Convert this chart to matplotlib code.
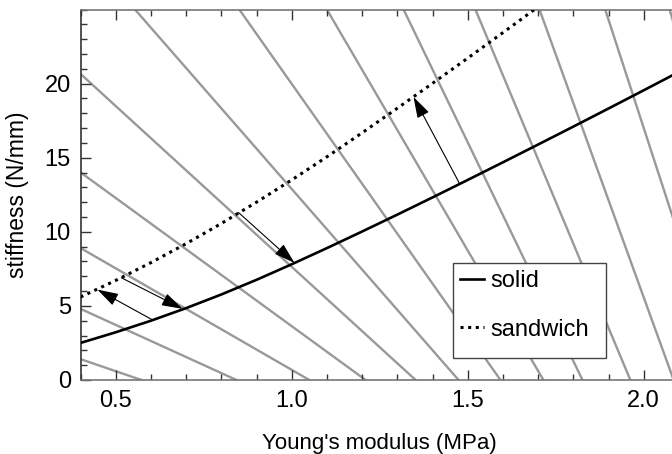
import numpy as np
import matplotlib
matplotlib.use('agg')
import matplotlib.pyplot as plt
from matplotlib.patches import Rectangle
from matplotlib.ticker import FixedLocator, MultipleLocator, StrMethodFormatter

plt.rcParams['font.family'] = ['Liberation Sans', 'DejaVu Sans']
plt.rcParams['font.size'] = 16

# Young's modulus grid (MPa)
modulus = [0.4, 0.5, 0.6, 0.7, 0.8, 0.9, 1.0, 1.1, 1.2, 1.3, 1.4, 1.5,
           1.6, 1.7, 1.8, 1.9, 2.0, 2.1]
# stiffness of the solid plate (N/mm)
solid = [2.5, 3.22, 4.0, 4.85, 5.77, 6.76, 7.81, 8.9, 10.02, 11.16, 12.32,
         13.5, 14.69, 15.89, 17.1, 18.32, 19.55, 20.79]
# stiffness of the sandwich plate (N/mm), up to 1.7 MPa
modulus_sw = [0.4, 0.5, 0.6, 0.7, 0.8, 0.9, 1.0, 1.1, 1.2, 1.3, 1.4, 1.5,
              1.6, 1.7]
sandwich = [5.6, 6.72, 7.92, 9.2, 10.56, 12.0, 13.5, 15.06, 16.68, 18.34,
            20.02, 21.72, 23.44, 25.18]

# iso-lines: modulus where stiffness drops to zero and their slope
iso_e0 = [0.573, 0.843, 1.05, 1.21, 1.352, 1.474, 1.593, 1.715, 1.826,
          1.962, 2.085, 2.233, 2.386]
iso_slope = [-8.15, -10.84, -13.7, -17.3, -21.7, -27.2, -33.7, -40.65,
             -49.2, -56.8, -65.6, -73.0, -80.0]

# arrows between the curves (tail -> head)
arrow_tail_x = [0.605, 0.516, 0.849, 1.477]
arrow_tail_y = [4.05, 6.9, 11.3, 13.25]
arrow_head_x = [0.448, 0.69, 1.008, 1.346]
arrow_head_y = [6.1, 4.8, 7.9, 19.1]

fig = plt.figure(figsize=(6.72, 4.54), dpi=100)
ax = fig.add_axes([0.1198, 0.163, 0.8905, 0.816])

xs = np.array([0.3, 2.6])
for e0, k in zip(iso_e0, iso_slope):
    ax.plot(xs, k * (xs - e0), color='#999999', lw=1.7, zorder=1)

ax.plot(modulus, solid, color='black', lw=1.9, label='solid', zorder=3)
ax.plot(modulus_sw, sandwich, color='black', lw=2.2,
        linestyle=(0, (1, 1.5)), label='sandwich', zorder=3)

for tx, ty, hx, hy in zip(arrow_tail_x, arrow_tail_y, arrow_head_x, arrow_head_y):
    ax.annotate('', xy=(hx, hy), xytext=(tx, ty),
                arrowprops=dict(arrowstyle='-|>,head_length=0.65,head_width=0.2',
                                color='black', lw=0.8, mutation_scale=20,
                                shrinkA=0, shrinkB=0),
                zorder=4)

ax.set_xlim(0.4, 2.1)
ax.set_ylim(0, 25)
ax.xaxis.set_major_locator(MultipleLocator(0.5))
ax.xaxis.set_minor_locator(MultipleLocator(0.1))
ax.xaxis.set_major_formatter(StrMethodFormatter('{x:.1f}'))
ax.yaxis.set_major_locator(FixedLocator([0, 5, 10, 15, 20]))
ax.yaxis.set_minor_locator(MultipleLocator(1))
ax.tick_params(which='both', direction='in', top=True, right=False,
               color='#333333', pad=7, labelsize=17)
ax.tick_params(which='major', length=7, width=1)
ax.tick_params(which='minor', length=4, width=1)

ax.spines['right'].set_visible(False)
ax.spines['left'].set_color('#333333')
for side in ('top', 'bottom'):
    ax.spines[side].set_color('#777777')
for side in ('left', 'top', 'bottom'):
    ax.spines[side].set_linewidth(1.2)

ax.set_xlabel("Young's modulus (MPa)", labelpad=15)
ax.set_ylabel('stiffness (N/mm)', labelpad=11, fontsize=16.5)

# legend box drawn separately so it can be sized freely
ax.add_patch(Rectangle((0.6225, 0.0593), 0.2555, 0.2561, transform=ax.transAxes,
                       facecolor='white', edgecolor='#444444', lw=1.0, zorder=5))
leg = ax.legend(loc='upper left', bbox_to_anchor=(0.6225, 0.3154),
                borderaxespad=0, frameon=False, fontsize=17,
                handlelength=1.0, handletextpad=0.3, labelspacing=1.12,
                borderpad=0.3)
leg.set_zorder(6)

plt.savefig('out.png', dpi=100)
